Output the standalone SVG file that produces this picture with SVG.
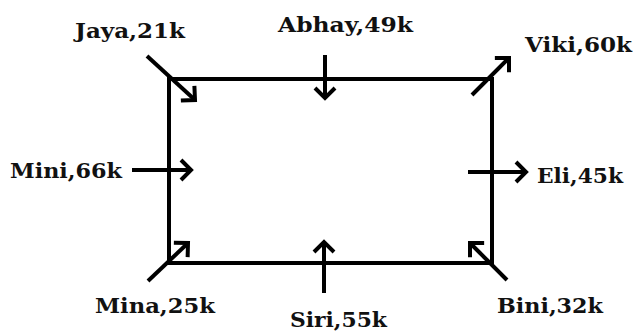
<svg xmlns="http://www.w3.org/2000/svg" width="634" height="331" viewBox="0 0 634 331">
<style>
.lbl{font-family:"DejaVu Serif","Liberation Serif",serif;font-weight:bold;font-size:21px;fill:#111}
.ln{stroke:#000;stroke-width:4;fill:none}
</style>
<defs>
<marker id="chev" markerUnits="userSpaceOnUse" markerWidth="30" markerHeight="30" viewBox="-15 -15 30 30" refX="0" refY="0" orient="auto" overflow="visible">
<path d="M-10,-10 L0,0 L-10,10" fill="none" stroke="#000" stroke-width="4" stroke-linejoin="miter"/>
</marker>
</defs>
<rect width="634" height="331" fill="#fff"/>
<g id="box"><rect class="ln" x="169" y="79" width="323" height="184"/></g>
<g id="connectors">
<path class="ln" d="M147,56 L195,100" marker-end="url(#chev)"/>
<path class="ln" d="M325,55 L325,98" marker-end="url(#chev)"/>
<path class="ln" d="M472,95 L509,58" marker-end="url(#chev)"/>
<path class="ln" d="M132,170 L191,170" marker-end="url(#chev)"/>
<path class="ln" d="M468,172 L526,172" marker-end="url(#chev)"/>
<path class="ln" d="M148,281 L188,243" marker-end="url(#chev)"/>
<path class="ln" d="M324,293 L324,242" marker-end="url(#chev)"/>
<path class="ln" d="M507,280 L470,243" marker-end="url(#chev)"/>
</g>
<g id="jaya"><text class="lbl" x="75" y="38" textLength="110" lengthAdjust="spacingAndGlyphs">Jaya,21k</text></g>
<g id="abhay"><text class="lbl" x="278" y="32" textLength="135" lengthAdjust="spacingAndGlyphs">Abhay,49k</text></g>
<g id="viki"><text class="lbl" x="525" y="52" textLength="107" lengthAdjust="spacingAndGlyphs">Viki,60k</text></g>
<g id="mini"><text class="lbl" x="10" y="178" textLength="112" lengthAdjust="spacingAndGlyphs">Mini,66k</text></g>
<g id="eli"><text class="lbl" x="537" y="183" textLength="86" lengthAdjust="spacingAndGlyphs">Eli,45k</text></g>
<g id="mina"><text class="lbl" x="95" y="313" textLength="120" lengthAdjust="spacingAndGlyphs">Mina,25k</text></g>
<g id="siri"><text class="lbl" x="290" y="327" textLength="97" lengthAdjust="spacingAndGlyphs">Siri,55k</text></g>
<g id="bini"><text class="lbl" x="497" y="313" textLength="106" lengthAdjust="spacingAndGlyphs">Bini,32k</text></g>
</svg>
